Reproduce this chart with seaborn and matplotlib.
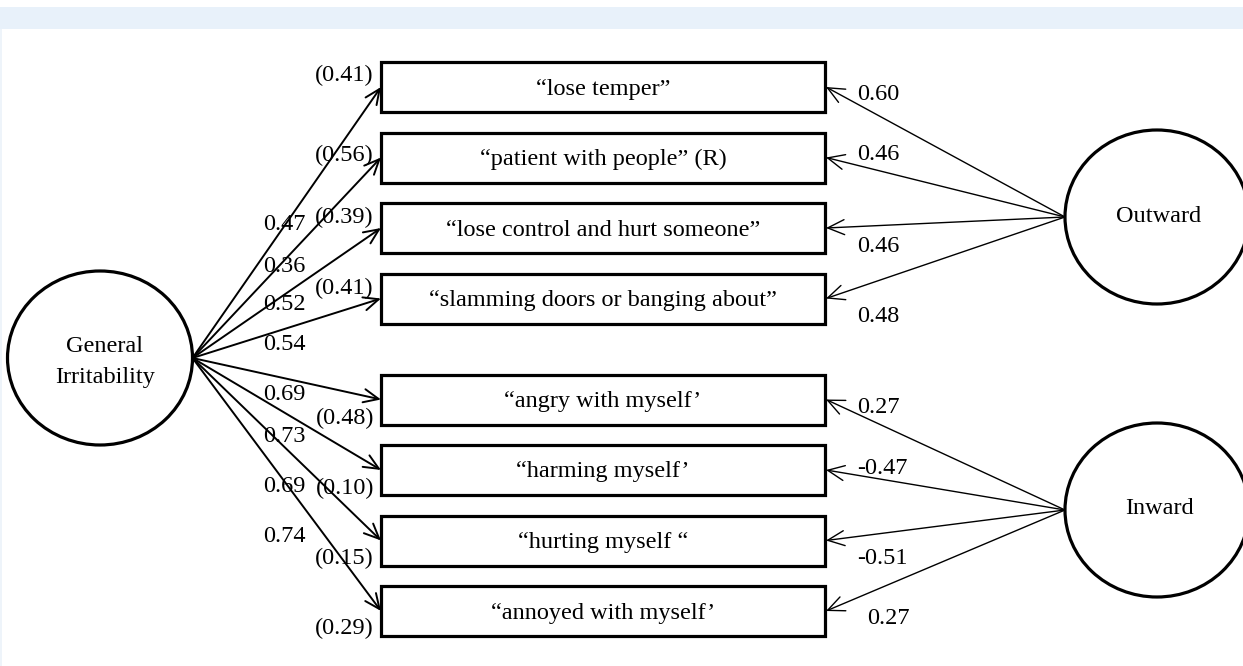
import matplotlib
matplotlib.use("Agg")
import matplotlib.pyplot as plt
import seaborn as sns
from matplotlib.patches import Ellipse, Rectangle

# -----------------------------
# Data
# -----------------------------
items = [
    "\u201close temper\u201d",
    "\u201cpatient with people\u201d (R)",
    "\u201close control and hurt someone\u201d",
    "\u201cslamming doors or banging about\u201d",
    "\u201cangry with myself\u2019",
    "\u201charming myself\u2019",
    "\u201churting myself \u201c",
    "\u201cannoyed with myself\u2019",
]
general_loadings = [0.47, 0.36, 0.52, 0.54, 0.69, 0.73, 0.69, 0.74]
residuals = [0.41, 0.56, 0.39, 0.41, 0.48, 0.10, 0.15, 0.29]
factors = ["Outward", "Inward"]
factor_of_item = [0, 0, 0, 0, 1, 1, 1, 1]
specific_loadings = [0.60, 0.46, 0.46, 0.48, 0.27, -0.47, -0.51, 0.27]

# -----------------------------
# Layout (pixel space, y down)
# -----------------------------
W, H = 1243, 666
box_left, box_right, box_h = 381, 825, 50
box_tops = [62 + i * 70.5 + (30.5 if i >= 4 else 0) for i in range(len(items))]
box_mid = [t + box_h / 2 for t in box_tops]

gen_center, gen_size = (100, 358), (185, 174)
fac_centers = [(1157, 217), (1157, 510)]
fac_size = (184, 174)

gen_label_y = [225, 267, 305, 345, 395, 437, 487, 537]
res_dy = [-12, -2, -11, -10, 19, 18, 18, 17]
spec_dy = [7, -3, 18, 18, 8, -2, 18, 7]
spec_dx = [0, 0, 0, 0, 0, 0, 0, 10]

sns.set_theme(style="white")
plt.rcParams["font.family"] = ["Liberation Serif", "DejaVu Serif"]
plt.rcParams["text.color"] = "black"
FS = 17.5

fig = plt.figure(figsize=(W / 100, H / 100), dpi=100)
ax = fig.add_axes([0, 0, 1, 1])
ax.set_xlim(0, W)
ax.set_ylim(H, 0)
ax.axis("off")

# header band and faint left border
ax.add_patch(Rectangle((0, 7), W, 22, facecolor="#e8f1fa", edgecolor="none"))
ax.add_patch(Rectangle((0, 29), 2, H - 29, facecolor="#eef4fa", edgecolor="none"))

# latent variables
ax.add_patch(Ellipse(gen_center, *gen_size, facecolor="white", edgecolor="black", lw=2.3))
ax.text(gen_center[0] + 5, gen_center[1] - 11, "General", ha="center", va="center", fontsize=FS)
ax.text(gen_center[0] + 5, gen_center[1] + 19, "Irritability", ha="center", va="center", fontsize=FS)
for name, c in zip(factors, fac_centers):
    ax.add_patch(Ellipse(c, *fac_size, facecolor="white", edgecolor="black", lw=2.3))
    ax.text(c[0] + 2, c[1] - 1, name, ha="center", va="center", fontsize=FS)

# observed items
for txt, top in zip(items, box_tops):
    ax.add_patch(Rectangle((box_left, top), box_right - box_left, box_h,
                           facecolor="white", edgecolor="black", lw=2.3))
    ax.text((box_left + box_right) / 2, top + box_h / 2 + 2, txt,
            ha="center", va="center", fontsize=FS)

gen_start = (gen_center[0] + gen_size[0] / 2, gen_center[1])
for i, ym in enumerate(box_mid):
    ax.annotate("", xy=(box_left, ym), xytext=gen_start,
                arrowprops=dict(arrowstyle="->,head_length=0.9,head_width=0.4",
                                lw=1.4, color="black", shrinkA=0, shrinkB=0,
                                mutation_scale=12))
    ax.text(263, gen_label_y[i], f"{general_loadings[i]:.2f}",
            ha="left", va="center", fontsize=FS)
    ax.text(374, ym + res_dy[i], f"({residuals[i]:.2f})",
            ha="right", va="center", fontsize=FS)

    fc = fac_centers[factor_of_item[i]]
    start = (fc[0] - fac_size[0] / 2, fc[1])
    ax.annotate("", xy=(box_right + 1, ym), xytext=start,
                arrowprops=dict(arrowstyle="->,head_length=1.0,head_width=0.45",
                                lw=1.0, color="black", shrinkA=0, shrinkB=0,
                                mutation_scale=12))
    ax.text(857 + spec_dx[i], ym + spec_dy[i], f"{specific_loadings[i]:.2f}",
            ha="left", va="center", fontsize=FS)

fig.savefig("out.png", dpi=100)
